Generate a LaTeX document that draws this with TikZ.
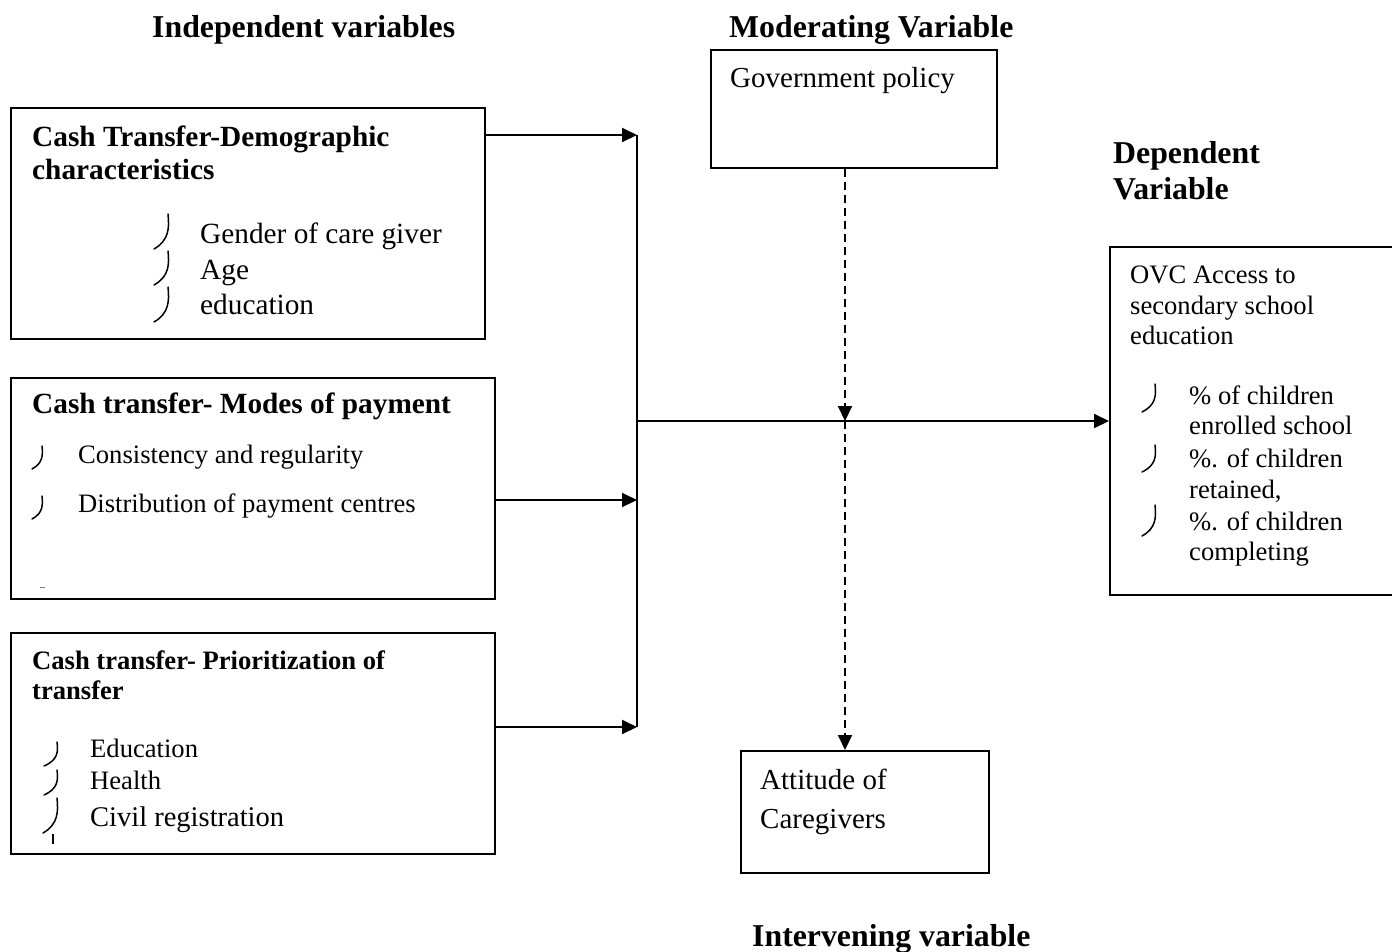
\documentclass[tikz,border=0pt]{standalone}
\usepackage{fontspec}
\setmainfont{Liberation Serif}
\usetikzlibrary{arrows.meta}
\tikzset{
  box/.style={draw, line width=2pt, anchor=north west, inner sep=0pt},
  conn/.style={line width=2pt},
  arr/.style={conn, -{Triangle[length=15pt,width=14pt]}},
  darr/.style={arr, dash pattern=on 8pt off 5pt},
  txt/.style={anchor=base west, inner sep=0pt, font=\fontsize{29.3}{34}\selectfont},
  stxt/.style={anchor=base west, inner sep=0pt, font=\fontsize{26.6}{30}\selectfont},
  hd/.style={anchor=base west, inner sep=0pt, font=\fontsize{31.8}{36}\selectfont\bfseries},
  bt/.style={anchor=base west, inner sep=0pt, font=\fontsize{29.3}{34}\selectfont\bfseries},
  sbt/.style={anchor=base west, inner sep=0pt, font=\fontsize{26.6}{30}\selectfont\bfseries},
  bulst/.style={line width=1.5pt, line cap=round}
}
\newcommand\mybul[4]{%
  \begin{scope}[shift={(#1,#2)}, xscale=#3, yscale=#4]
    \draw[bulst] (0,0) .. controls (0.1,0.4) and (0.08,0.75) .. (-1,1);
  \end{scope}}
\begin{document}
\begin{tikzpicture}[x=1pt,y=-1pt]
\useasboundingbox[fill=white] (0,0) rectangle (1392,951);

% headings
\node[hd] (hind) at (152,37) {Independent variables};
\node[hd] (hmod) at (729,37) {Moderating Variable};
\node[hd] (hdep1) at (1113,163) {Dependent};
\node[hd] (hdep2) at (1113,199) {Variable};
\node[hd] (hint) at (752,946) {Intervening variable};

% boxes
\node[box, minimum width=474pt, minimum height=231pt] (b1) at (10,107) {};
\node[box, minimum width=484pt, minimum height=221pt] (b2) at (10,377) {};
\node[box, minimum width=484pt, minimum height=221pt] (b3) at (10,632) {};
\node[box, minimum width=286pt, minimum height=118pt] (gov) at (710,49) {};
\node[box, minimum width=248pt, minimum height=122pt] (att) at (740,750) {};
\node[box, minimum width=290pt, minimum height=348pt] (ovc) at (1109,246) {};

% box 1 text
\node[bt] (t1a) at (32,146) {Cash Transfer-Demographic};
\node[bt] (t1b) at (32,179) {characteristics};
\node[txt] (i1a) at (200,243) {Gender of care giver};
\node[txt] (i1b) at (200,279) {Age};
\node[txt] (i1c) at (200,314) {education};
\mybul{168}{214}{14}{35}
\mybul{168}{251}{14}{34}
\mybul{168}{287}{14}{35}

% box 2 text
\node[bt] (t2a) at (32,413) {Cash transfer- Modes of payment};
\node[stxt] (i2a) at (78,463) {Consistency and regularity};
\node[stxt] (i2b) at (78,512) {Distribution of payment centres};
\mybul{42}{446}{10}{23}
\mybul{42}{496}{10}{23}
\draw[line width=0.6pt, gray] (40,587) -- (45,587);

% box 3 text
\node[sbt] (t3a) at (32,669) {Cash transfer- Prioritization of};
\node[sbt] (t3b) at (32,699) {transfer};
\node[stxt] (i3a) at (90,757) {Education};
\node[stxt] (i3b) at (90,789) {Health};
\node[stxt, font=\fontsize{28.5}{32}\selectfont] (i3c) at (90,826) {Civil registration};
\mybul{57}{742}{13}{24}
\mybul{57}{770}{13}{25}
\mybul{57}{798}{14}{35}
\draw[line width=1.6pt] (53,834) -- (53,844);

% government policy
\node[txt, font=\fontsize{29}{34}\selectfont] (tg) at (730,87) {Government policy};

% attitude
\node[txt, font=\fontsize{29}{34}\selectfont] (ta1) at (760,789) {Attitude of};
\node[txt, font=\fontsize{29}{34}\selectfont] (ta2) at (760,828) {Caregivers};

% OVC
\node[stxt] (to1) at (1130,283) {OVC Access to};
\node[stxt] (to2) at (1130,314) {secondary school};
\node[stxt] (to3) at (1130,344) {education};
\node[stxt] (io1) at (1189,404) {\% of children};
\node[stxt] (io2) at (1189,434) {enrolled school};
\node[stxt] (io3) at (1189,467) {\%. of children};
\node[stxt] (io4) at (1189,498) {retained,};
\node[stxt] (io5) at (1189,530) {\%. of children};
\node[stxt] (io6) at (1189,560) {completing};
\mybul{1155}{384}{13}{28}
\mybul{1155}{445}{13}{27}
\mybul{1155}{505}{13}{31}

% connectors
\coordinate (j1) at (637,135);
\coordinate (j2) at (637,500);
\coordinate (j3) at (637,727);
\coordinate (jm) at (637,421);
\coordinate (dx) at (845,421);
\draw[arr] (j1 -| b1.east) -- (j1);
\draw[arr] (j2 -| b2.east) -- (j2);
\draw[arr] (j3 -| b3.east) -- (j3);
\draw[conn] (j1) -- (j3);
\draw[arr] (jm) -- (jm -| ovc.west);
\draw[darr] (dx |- gov.south) -- (dx);
\draw[darr] (dx) -- (dx |- att.north);
\end{tikzpicture}
\end{document}
